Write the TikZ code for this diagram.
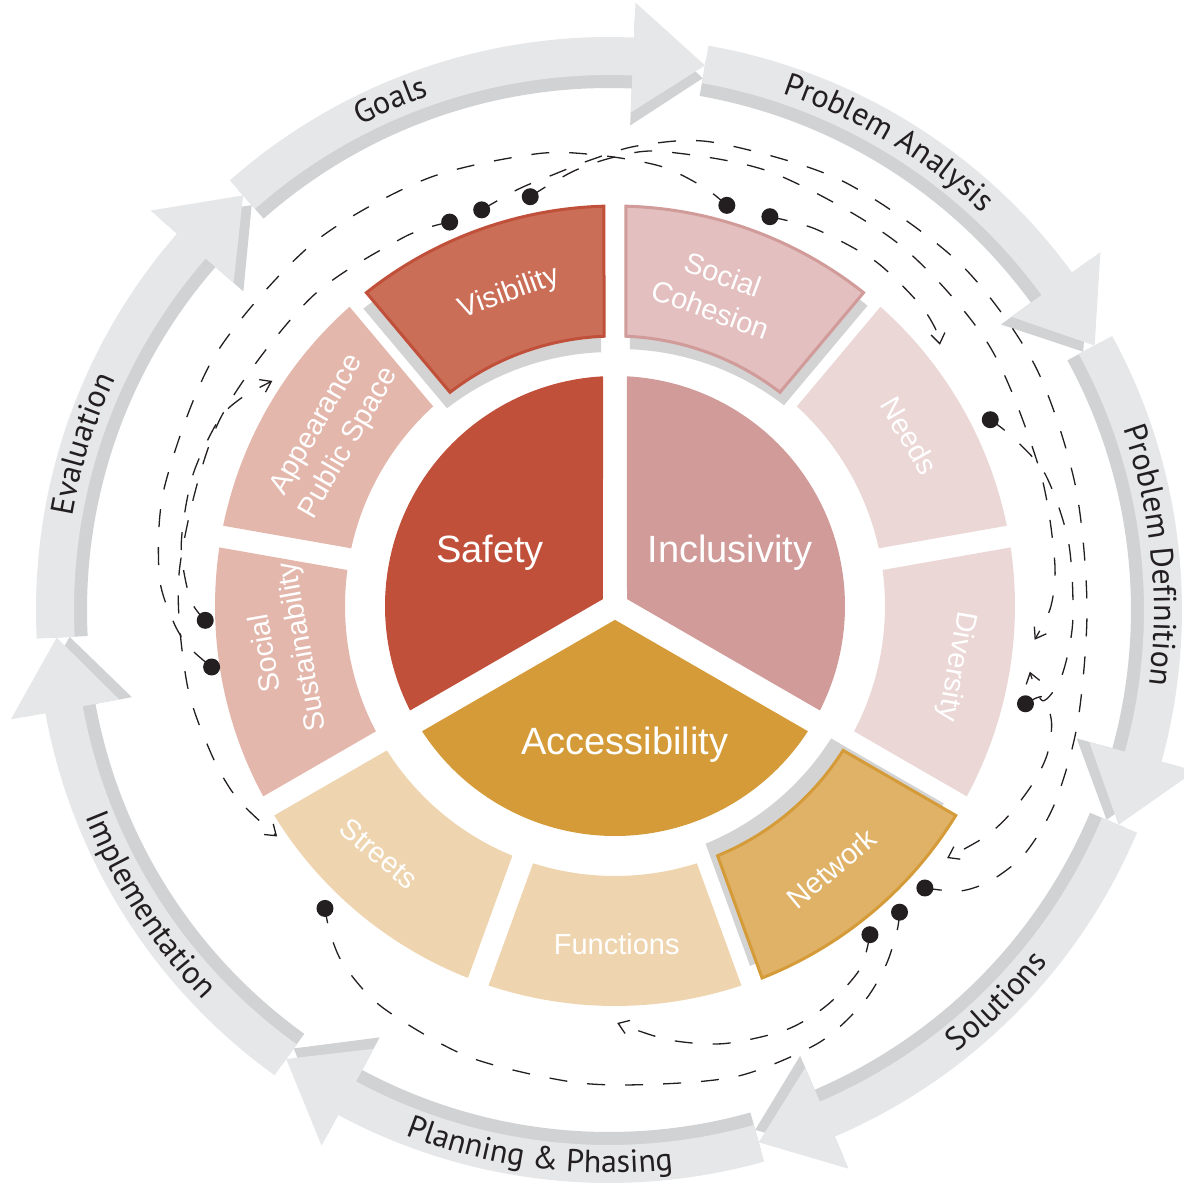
\documentclass[tikz,border=0pt]{standalone}
\usepackage{fontspec}
\usetikzlibrary{arrows.meta,decorations.text}

\newfontfamily\ringfont{PT Sans}
\newfontfamily\labfont{Liberation Sans}

\definecolor{ink}{HTML}{231F20}
\definecolor{ringgray}{HTML}{E6E7E8}
\definecolor{ringshade}{HTML}{D1D2D3}
\definecolor{segshade}{HTML}{D3D3D3}
\definecolor{safetyred}{HTML}{C0503A}
\definecolor{inclpink}{HTML}{D09B99}
\definecolor{accgold}{HTML}{D49B38}
\definecolor{visred}{HTML}{CB6E57}
\definecolor{cohpink}{HTML}{E3BFBF}
\definecolor{palepink}{HTML}{ECD7D7}
\definecolor{salmon}{HTML}{E4B7AC}
\definecolor{sand}{HTML}{EED5AF}
\definecolor{netgold}{HTML}{E0B268}

\tikzset{
  link/.style={ink, line width=1.3pt, dash pattern=on 18pt off 20pt},
  linkto/.style={link, -{Straight Barb[length=10pt,width=14pt]}},
  blob/.style={circle, fill=ink, inner sep=0pt, minimum size=17pt},
  seglabel/.style={text=white, align=center, font=\labfont\fontsize{29}{37}\selectfont},
  corelabel/.style={text=white, font=\labfont\fontsize{38}{44}\selectfont},
  ringtext/.style={decorate, decoration={text along path, text align=center, text color=ink}},
}

% ring piece round the core, centre angle #1
\newcommand\segpath[1]{({#1-18.424}:400) arc[start angle={#1-18.424}, end angle={#1+18.424}, radius=400]
  -- ({#1+17.665}:270) arc[start angle={#1+17.665}, end angle={#1-17.665}, radius=270] -- cycle}
% one third of the core, from angle #1 to #2
\newcommand\corepath[2]{({(#1+#2)/2}:13.86) -- ({#1+2.99}:230) arc[start angle={#1+2.99}, end angle={#2-2.99}, radius=230] -- cycle}
% outer arrow, tail angle #1, tip angle #2, pulled in by #3
\newcommand\ringarrow[3]{(#1:{573-#3}) arc[start angle=#1, end angle={#2+7.5}, radius={573-#3}]
  -- ({#2+7.5}:{608-#3}) -- (#2:{553-#3}) -- ({#2+7.5}:{498-#3})
  -- ({#2+7.5}:{535-#3}) arc[start angle={#2+7.5}, end angle=#1, radius={535-#3}] -- cycle}

\begin{document}
\begin{tikzpicture}[x=1pt, y=1pt]

  \useasboundingbox (-615,-581) rectangle (569,606);
  \coordinate (ringc) at (-6,-4);

  %% outer cycle
  \begin{scope}[shift={(ringc)}]
    \foreach \k in {0,...,6}{
      \pgfmathsetmacro\tip{80-51.4286*\k}
      \pgfmathsetmacro\tail{\tip+51.4286}
      \fill[ringshade] \ringarrow{\tail}{\tip}{13};
    }
    \foreach \k in {0,...,6}{
      \pgfmathsetmacro\tip{80-51.4286*\k}
      \pgfmathsetmacro\tail{\tip+51.4286}
      \fill[ringgray] \ringarrow{\tail}{\tip}{0};
    }

    \path[ringtext, decoration={text={|\ringfont\fontsize{32}{36}\selectfont|Goals}}]
      (153.2:545) arc[start angle=153.2, end angle=73.2, radius=545];
    \path[ringtext, decoration={text={|\ringfont\fontsize{32}{36}\selectfont|Problem Analysis}}]
      (99.1:545) arc[start angle=99.1, end angle=19.1, radius=545];
    \path[ringtext, decoration={text={|\ringfont\fontsize{32}{36}\selectfont|Problem Definition}}]
      (45.8:545) arc[start angle=45.8, end angle=-34.2, radius=545];
    \path[ringtext, decoration={text={|\ringfont\fontsize{32}{36}\selectfont|Solutions}}]
      (-85.3:563) arc[start angle=-85.3, end angle=-5.3, radius=563];
    \path[ringtext, decoration={text={|\ringfont\fontsize{32}{36}\selectfont|Planning {\&} Phasing}}]
      (-137.3:563) arc[start angle=-137.3, end angle=-57.3, radius=563];
    \path[ringtext, decoration={text={|\ringfont\fontsize{32}{36}\selectfont|Implementation}}]
      (-187.3:563) arc[start angle=-187.3, end angle=-107.3, radius=563];
    \path[ringtext, decoration={text={|\ringfont\fontsize{32}{36}\selectfont|Evaluation}}]
      (202.5:545) arc[start angle=202.5, end angle=122.5, radius=545];
  \end{scope}

  %% ring of themes
  \fill[segshade, shift={(-3,-16)}] \segpath{110};
  \fill[segshade, shift={(4,-13)}] \segpath{70};
  \fill[segshade, shift={(-12,12)}] \segpath{-50};

  \filldraw[fill=visred, draw=safetyred, line width=3pt] \segpath{110};
  \filldraw[fill=cohpink, draw=inclpink, line width=3pt] \segpath{70};
  \fill[palepink] \segpath{30};
  \fill[palepink] \segpath{-10};
  \filldraw[fill=netgold, draw=accgold, line width=3pt] \segpath{-50};
  \fill[sand] \segpath{-90};
  \fill[sand] \segpath{-130};
  \fill[salmon] \segpath{-170};
  \fill[salmon] \segpath{150};

  %% core
  \fill[safetyred] \corepath{90}{210};
  \fill[inclpink] \corepath{-30}{90};
  \fill[accgold] \corepath{210}{330};

  \node[corelabel] (safety) at (-125,53) {Safety};
  \node[corelabel] (inclusivity) at (115,53) {Inclusivity};
  \node[corelabel] (accessibility) at (10,-139) {Accessibility};

  \node[seglabel, rotate=20] (visibility) at (108.7:330) {Visibility};
  \node[seglabel, rotate=-20] (cohesion) at (72:330) {Social\\Cohesion};
  \node[seglabel, rotate=-60] (needs) at (30:340) {Needs};
  \node[seglabel, rotate=-100] (diversity) at (-10:346) {Diversity};
  \node[seglabel, rotate=40] (network) at (-50.4:340) {Network};
  \node[seglabel] (functions) at (-89.7:338) {Functions};
  \node[seglabel, rotate=-40] (streets) at (-133.6:342) {Streets};
  \node[seglabel, rotate=100] (sustain) at (-172.4:333) {Social\\Sustainability};
  \node[seglabel, rotate=60] (appearance) at (148.6:330) {Appearance\\Public Space};

  %% relations
  \node[blob] (dot1) at (113.3:418) {};
  \node[blob] (dot2) at (108.6:418) {};
  \node[blob] (dot3) at (101.7:418) {};
  \node[blob] (dot4) at (74.4:416) {};
  \node[blob] (dot5) at (68.3:419) {};
  \node[blob] (dot6) at (26.4:419) {};
  \node[blob] (dot7) at (-13.4:422) {};
  \node[blob] (dot8) at (-42.3:419) {};
  \node[blob] (dot9) at (-47.1:418) {};
  \node[blob] (dot10) at (-52.2:416) {};
  \node[blob] (dot11) at (-133.8:419) {};
  \node[blob] (dot12) at (182:410) {};
  \node[blob] (dot13) at (188.6:408) {};

  \coordinate (end1) at (146.7:410);
  \coordinate (end2) at (38.8:417);
  \coordinate (end3) at (-4.6:421);
  \coordinate (end4) at (-9:420);
  \coordinate (end5) at (-37.2:417);
  \coordinate (end6) at (-89.7:417);
  \coordinate (end7) at (214.3:409);

  \draw[linkto] plot[smooth] coordinates {(dot1.center) (120:425) (135:433) (155:437) (175:437)
    (190:435) (200:430) (207:424) (end7)};
  \draw[link] plot[smooth] coordinates {(dot2.center) (103:428) (98:436) (93:447) (87:461) (78:474)
    (62:482) (45:486) (30:484) (15:476) (0:472) (-14:477) (-24:482) (-31:479) (-36:466) (-39.5:448) (dot8.center)};
  \draw[linkto] plot[smooth] coordinates {(dot3.center) (99:426) (95:438) (90:449) (84:457) (70:461)
    (52:460) (35:456) (18:446) (6:442) (0:436) (end3)};
  \draw[link] plot[smooth] coordinates {(dot4.center) (78:428) (84:442) (92:451) (100:459) (114:467)
    (130:472) (148:472) (165:466) (176:457) (182:442) (185.5:428) (dot13.center)};
  \draw[linkto] plot[smooth] coordinates {(dot5.center) (62:427) (53:432) (45:429) (41:424) (end2)};
  \draw[linkto] plot[smooth] coordinates {(dot6.center) (23:432) (17:450) (8:458) (-2:458) (-9:452)
    (-12.5:438) (end4)};
  \draw[linkto] plot[smooth] coordinates {(dot7.center) (-12:438) (-15:452) (-19:457)
    (-23:454) (-28:446) (-32:436) (end5)};
  \draw[link] plot[smooth] coordinates {(dot9.center) (-49:430) (-53:450) (-58:468) (-65:482) (-75:486)
    (-85:480) (-95:478) (-108:474) (-120:464) (-127:450) (-131:434) (dot11.center)};
  \draw[linkto] plot[smooth] coordinates {(dot10.center) (-56:438) (-62:452) (-68:457) (-76:451)
    (-83:437) (end6)};
  \draw[linkto] plot[smooth] coordinates {(dot12.center) (179:425) (172:438) (163:442) (155:438)
    (151:428) (end1)};

\end{tikzpicture}
\end{document}
